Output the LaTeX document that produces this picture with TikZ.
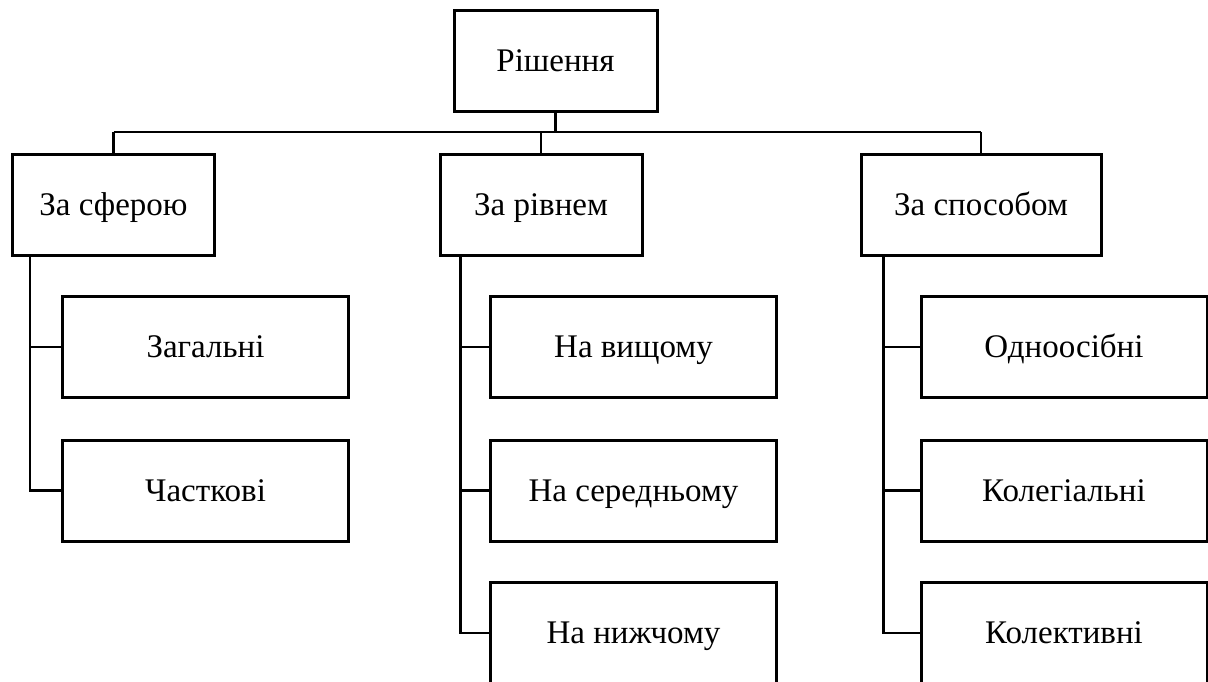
\documentclass[tikz,border=0pt]{standalone}
\usepackage{fontspec}
\setmainfont{Liberation Serif}
\begin{document}
\begin{tikzpicture}[x=1pt,y=-1pt,line width=2.4pt,
	box/.style={draw,line width=3pt,minimum height=101pt,inner sep=0pt,text height=21pt,text depth=0pt,font=\fontsize{33}{40}\selectfont},
	catbox/.style={box,minimum width=202pt},
	leafbox/.style={box,minimum width=286pt}]
		\useasboundingbox (0,0) rectangle (1208,681);
		\node[box,minimum width=203pt] (root) at (555.5,61) {Рішення};
		\node[catbox] (sfera) at (113.5,204.5) {За сферою};
		\node[catbox] (riven) at (541,204.5) {За рівнем};
		\node[catbox,minimum width=240pt] (sposib) at (981,204.5) {За способом};
		\node[leafbox] (zag) at (205.5,347) {Загальні};
		\node[leafbox] (chast) at (205.5,490.5) {Часткові};
		\node[leafbox] (vyshch) at (633.5,347) {На вищому};
		\node[leafbox] (sered) at (633.5,490.5) {На середньому};
		\node[leafbox] (nyzh) at (633.5,633) {На нижчому};
		\node[leafbox] (odno) at (1064,347) {Одноосібні};
		\node[leafbox] (koleg) at (1064,490.5) {Колегіальні};
		\node[leafbox] (kolekt) at (1064,633) {Колективні};
		\coordinate (busL) at (113.5,132);
		\coordinate (busR) at (981,132);
		\draw (root.south) -- (root.south |- busL);
		\draw (busL) -- (busR);
		\foreach \c in {sfera,riven,sposib}
			\draw (\c.north) -- (\c.north |- busL);
		\draw ([xshift=19pt]sfera.south west) |- (zag.west);
		\draw ([xshift=19pt]sfera.south west) |- (chast.west);
		\foreach \c in {vyshch,sered,nyzh}
			\draw ([xshift=22pt]riven.south west) |- (\c.west);
		\foreach \c in {odno,koleg,kolekt}
			\draw ([xshift=24pt]sposib.south west) |- (\c.west);
\end{tikzpicture}
\end{document}
